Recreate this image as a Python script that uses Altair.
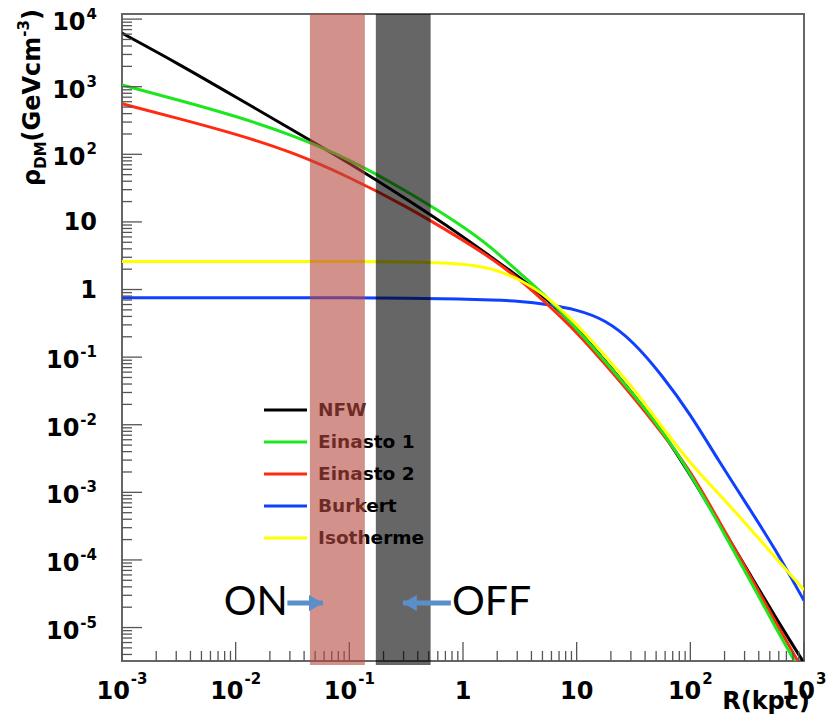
import altair as alt
import pandas as pd

# ---------------- data ----------------
R_KPC = [0.001, 0.00316, 0.01, 0.0316, 0.1, 0.316, 1.0, 1.78, 3.16, 5.62,
         10.0, 17.8, 31.6, 56.2, 100.0, 178.0, 316.0, 562.0, 1000.0]
NFW = [6200, 2170, 705, 229, 74, 22, 6.1, 3.0, 1.5, 0.70,
       0.27, 0.088, 0.028, 0.0082, 0.0018, 3.6e-4, 7.3e-5, 1.4e-5, 3.0e-6]
EINASTO_1 = [1060, 635, 369, 193, 85, 29, 8.7, 4.2, 1.74, 0.75,
             0.26, 0.087, 0.028, 0.0083, 0.0019, 3.4e-4, 6.0e-5, 1.0e-5, 1.8e-6]
EINASTO_2 = [560, 338, 200, 108, 46, 17.2, 5.4, 2.9, 1.41, 0.59,
             0.235, 0.079, 0.0257, 0.0076, 0.0021, 3.8e-4, 7.0e-5, 1.2e-5, 2.2e-6]
BURKERT = [0.757, 0.757, 0.757, 0.757, 0.755, 0.75, 0.72, 0.70, 0.676, 0.60,
           0.506, 0.36, 0.170, 0.0543, 0.0144, 2.9e-3, 6.5e-4, 1.43e-4, 2.5e-5]
ISOTHERME = [2.6, 2.6, 2.6, 2.6, 2.6, 2.58, 2.43, 2.08, 1.43, 0.77,
             0.31, 0.104, 0.035, 9.3e-3, 2.67e-3, 9.5e-4, 3.3e-4, 1.07e-4, 3.6e-5]

PROFILES = ["NFW", "Einasto 1", "Einasto 2", "Burkert", "Isotherme"]
SERIES = [NFW, EINASTO_1, EINASTO_2, BURKERT, ISOTHERME]
COLORS = ["#000000", "#1ee61e", "#ff2a10", "#1040ff", "#ffff00"]
DRAW_ORDER = ["NFW", "Burkert", "Einasto 2", "Einasto 1", "Isotherme"]

ON_BAND = [0.045, 0.137]
OFF_BAND = [0.171, 0.519]

X_EXPONENTS = [-3, -2, -1, 0, 1, 2, 3]
Y_EXPONENTS = [-5, -4, -3, -2, -1, 0, 1, 2, 3, 4]

ON_LABEL = ("ON", 0.0288, 2.3e-5)
OFF_LABEL = ("OFF", 0.80, 2.3e-5)
ON_ARROW = (0.0285, 0.0586, 2.3e-5)
OFF_ARROW = (0.783, 0.296, 2.3e-5)

# ---------------- layout ----------------
W, H = 682, 647
XDOM = [1e-3, 1e3]
YDOM = [3.2e-6, 1.19e4]
xs = alt.Scale(type="log", domain=XDOM, nice=False)
ys = alt.Scale(type="log", domain=YDOM, nice=False)
FONT = "DejaVu Sans"
FS_BASE, FS_EXP = 24, 15
TICK_COLOR = "#555555"

WID = {"0": .696, "1": .696, "2": .696, "3": .696, "4": .696, "5": .696,
       "-": .415, "(": .457, ")": .457, "G": .821, "e": .678, "V": .774,
       "c": .593, "m": 1.042, "D": .830, "M": .995, "ρ": .716}


def tw(s, size):
    return sum(WID.get(ch, .65) for ch in s) * size


layers = []

# curves
for name in DRAW_ORDER:
    i = PROFILES.index(name)
    df = pd.DataFrame({"r": R_KPC, "rho": SERIES[i]})
    layers.append(
        alt.Chart(df).mark_line(clip=True, strokeWidth=3, color=COLORS[i],
                                interpolate="basis")
        .encode(x=alt.X("r:Q", scale=xs, axis=None),
                y=alt.Y("rho:Q", scale=ys, axis=None))
    )

# ticks (ROOT style, inward)
x_major = [10.0 ** k for k in X_EXPONENTS]
x_minor = [m * 10.0 ** k for k in range(-3, 3) for m in range(2, 10)]
y_major = [10.0 ** k for k in Y_EXPONENTS]
y_minor = [m * 10.0 ** k for k in range(-6, 5) for m in range(2, 10)
           if YDOM[0] <= m * 10.0 ** k <= YDOM[1]]

for vals, ln in ((x_major, 19), (x_minor, 10)):
    layers.append(
        alt.Chart(pd.DataFrame({"r": vals})).mark_rule(color=TICK_COLOR, strokeWidth=1.3)
        .encode(x=alt.X("r:Q", scale=xs, axis=None), y=alt.value(H), y2=alt.value(H - ln))
    )
for vals, ln in ((y_major, 20), (y_minor, 10)):
    layers.append(
        alt.Chart(pd.DataFrame({"rho": vals})).mark_rule(color=TICK_COLOR, strokeWidth=1.3)
        .encode(y=alt.Y("rho:Q", scale=ys, axis=None), x=alt.value(0), x2=alt.value(ln))
    )

# legend (drawn below the bands, as in the picture)
for i, name in enumerate(PROFILES):
    yy = 396 + 32 * i
    d = pd.DataFrame({"lab": [name]})
    layers.append(
        alt.Chart(d).mark_rule(color=COLORS[i], strokeWidth=3)
        .encode(x=alt.value(142), x2=alt.value(185), y=alt.value(yy))
    )
    layers.append(
        alt.Chart(d).mark_text(align="left", baseline="middle", font=FONT,
                               fontWeight="bold", fontSize=18.5, color="#000000")
        .encode(x=alt.value(196), y=alt.value(yy), text="lab:N")
    )

# bands
band_df = pd.DataFrame({"lo": [ON_BAND[0], OFF_BAND[0]], "hi": [ON_BAND[1], OFF_BAND[1]],
                        "kind": ["ON", "OFF"]})
layers.append(
    alt.Chart(band_df).mark_rect()
    .encode(x=alt.X("lo:Q", scale=xs, axis=None), x2="hi:Q",
            y=alt.value(0), y2=alt.value(H + 4),
            color=alt.Color("kind:N", scale=alt.Scale(domain=["ON", "OFF"],
                                                        range=["#b5473f", "#000000"]),
                            legend=None),
            opacity=alt.value(0.6))
)

# x tick labels
neg = [k for k in X_EXPONENTS if k < 0]
pos = [k for k in X_EXPONENTS if k > 1]
plain = [k for k in X_EXPONENTS if k in (0, 1)]
XL_BASE_Y, XL_EXP_Y = 678, 665
for group in (neg, pos):
    if not group:
        continue
    we = tw(str(group[0]), FS_EXP)
    total = tw("10", FS_BASE) + 1 + we
    base_right = total / 2 - we - 1
    d = pd.DataFrame({"r": [10.0 ** k for k in group], "b": ["10"] * len(group),
                      "e": [str(k) for k in group]})
    layers.append(
        alt.Chart(d).mark_text(align="right", baseline="middle", dx=base_right, font=FONT,
                               fontWeight="bold", fontSize=FS_BASE, color="#000")
        .encode(x=alt.X("r:Q", scale=xs, axis=None), y=alt.value(XL_BASE_Y), text="b:N")
    )
    layers.append(
        alt.Chart(d).mark_text(align="left", baseline="middle", dx=base_right + 1, font=FONT,
                               fontWeight="bold", fontSize=FS_EXP, color="#000")
        .encode(x=alt.X("r:Q", scale=xs, axis=None), y=alt.value(XL_EXP_Y), text="e:N")
    )
d = pd.DataFrame({"r": [10.0 ** k for k in plain], "t": [str(int(10 ** k)) for k in plain]})
layers.append(
    alt.Chart(d).mark_text(align="center", baseline="middle", font=FONT,
                           fontWeight="bold", fontSize=FS_BASE, color="#000")
    .encode(x=alt.X("r:Q", scale=xs, axis=None), y=alt.value(XL_BASE_Y), text="t:N")
)

# y tick labels
YL_RIGHT = -25
ypos1 = [k for k in Y_EXPONENTS if k > 1]
yneg = [k for k in Y_EXPONENTS if k < 0]
yplain = [k for k in Y_EXPONENTS if k in (0, 1)]
for group in (ypos1, yneg):
    we = tw(str(group[0]), FS_EXP)
    d = pd.DataFrame({"rho": [10.0 ** k for k in group], "b": ["10"] * len(group),
                      "e": [str(k) for k in group]})
    layers.append(
        alt.Chart(d).mark_text(align="right", baseline="middle", dy=4, font=FONT,
                               fontWeight="bold", fontSize=FS_BASE, color="#000")
        .encode(y=alt.Y("rho:Q", scale=ys, axis=None), x=alt.value(YL_RIGHT - we - 1), text="b:N")
    )
    layers.append(
        alt.Chart(d).mark_text(align="right", baseline="middle", dy=-5, font=FONT,
                               fontWeight="bold", fontSize=FS_EXP, color="#000")
        .encode(y=alt.Y("rho:Q", scale=ys, axis=None), x=alt.value(YL_RIGHT), text="e:N")
    )
d = pd.DataFrame({"rho": [10.0 ** k for k in yplain], "t": [str(int(10 ** k)) for k in yplain]})
layers.append(
    alt.Chart(d).mark_text(align="right", baseline="middle", dy=1, font=FONT,
                           fontWeight="bold", fontSize=FS_BASE, color="#000")
    .encode(y=alt.Y("rho:Q", scale=ys, axis=None), x=alt.value(YL_RIGHT), text="t:N")
)

# x axis title
layers.append(
    alt.Chart(pd.DataFrame({"t": ["R(kpc)"]})).mark_text(
        align="right", baseline="middle", font=FONT, fontWeight="bold",
        fontSize=24, color="#000")
    .encode(x=alt.value(688), y=alt.value(688), text="t:N")
)

# y axis title (rotated, built from pieces for sub/superscripts)
TITLE_X = -82
pieces = [("ρ", 24, 0), ("DM", 15, 6), ("(GeVcm", 24, 0), ("-3", 15, -11), (")", 24, 0)]
ty = 172
for txt, fs, off in pieces:
    layers.append(
        alt.Chart(pd.DataFrame({"t": [txt]})).mark_text(
            align="left", baseline="alphabetic", angle=270, font=FONT,
            fontWeight="bold", fontSize=fs, color="#000")
        .encode(x=alt.value(TITLE_X + off), y=alt.value(ty), text="t:N")
    )
    ty -= tw(txt, fs)

# ON / OFF annotations with arrows
ARROW_COLOR = "#5b8fc9"
arr = pd.DataFrame({"x0": [ON_ARROW[0], OFF_ARROW[0]], "x1": [ON_ARROW[1], OFF_ARROW[1]],
                    "y": [ON_ARROW[2], OFF_ARROW[2]]})
layers.append(
    alt.Chart(arr).mark_rule(color=ARROW_COLOR, strokeWidth=5)
    .encode(x=alt.X("x0:Q", scale=xs, axis=None), x2="x1:Q",
            y=alt.Y("y:Q", scale=ys, axis=None))
)
for (x0, x1, yv), shape, off in ((ON_ARROW, "triangle-right", -7), (OFF_ARROW, "triangle-left", 7)):
    layers.append(
        alt.Chart(pd.DataFrame({"x": [x1], "y": [yv]})).mark_point(
            shape=shape, filled=True, size=260, color=ARROW_COLOR, opacity=1)
        .encode(x=alt.X("x:Q", scale=xs, axis=None), y=alt.Y("y:Q", scale=ys, axis=None),
                xOffset=alt.value(off))
    )
for (txt, xv, yv), al in ((ON_LABEL, "right"), (OFF_LABEL, "left")):
    layers.append(
        alt.Chart(pd.DataFrame({"x": [xv], "y": [yv], "t": [txt]})).mark_text(
            align=al, baseline="middle", font="Lato", fontSize=41, color="#000")
        .encode(x=alt.X("x:Q", scale=xs, axis=None), y=alt.Y("y:Q", scale=ys, axis=None),
                text="t:N")
    )

chart = (
    alt.layer(*layers)
    .properties(width=W, height=H,
                padding={"left": 114, "top": 6, "right": 24, "bottom": 58},
                autosize=alt.AutoSizeParams(type="none"))
    .configure_view(stroke="#666666", strokeWidth=2)
)

chart.save("out.html", embed_options={"renderer": "svg", "actions": False})
